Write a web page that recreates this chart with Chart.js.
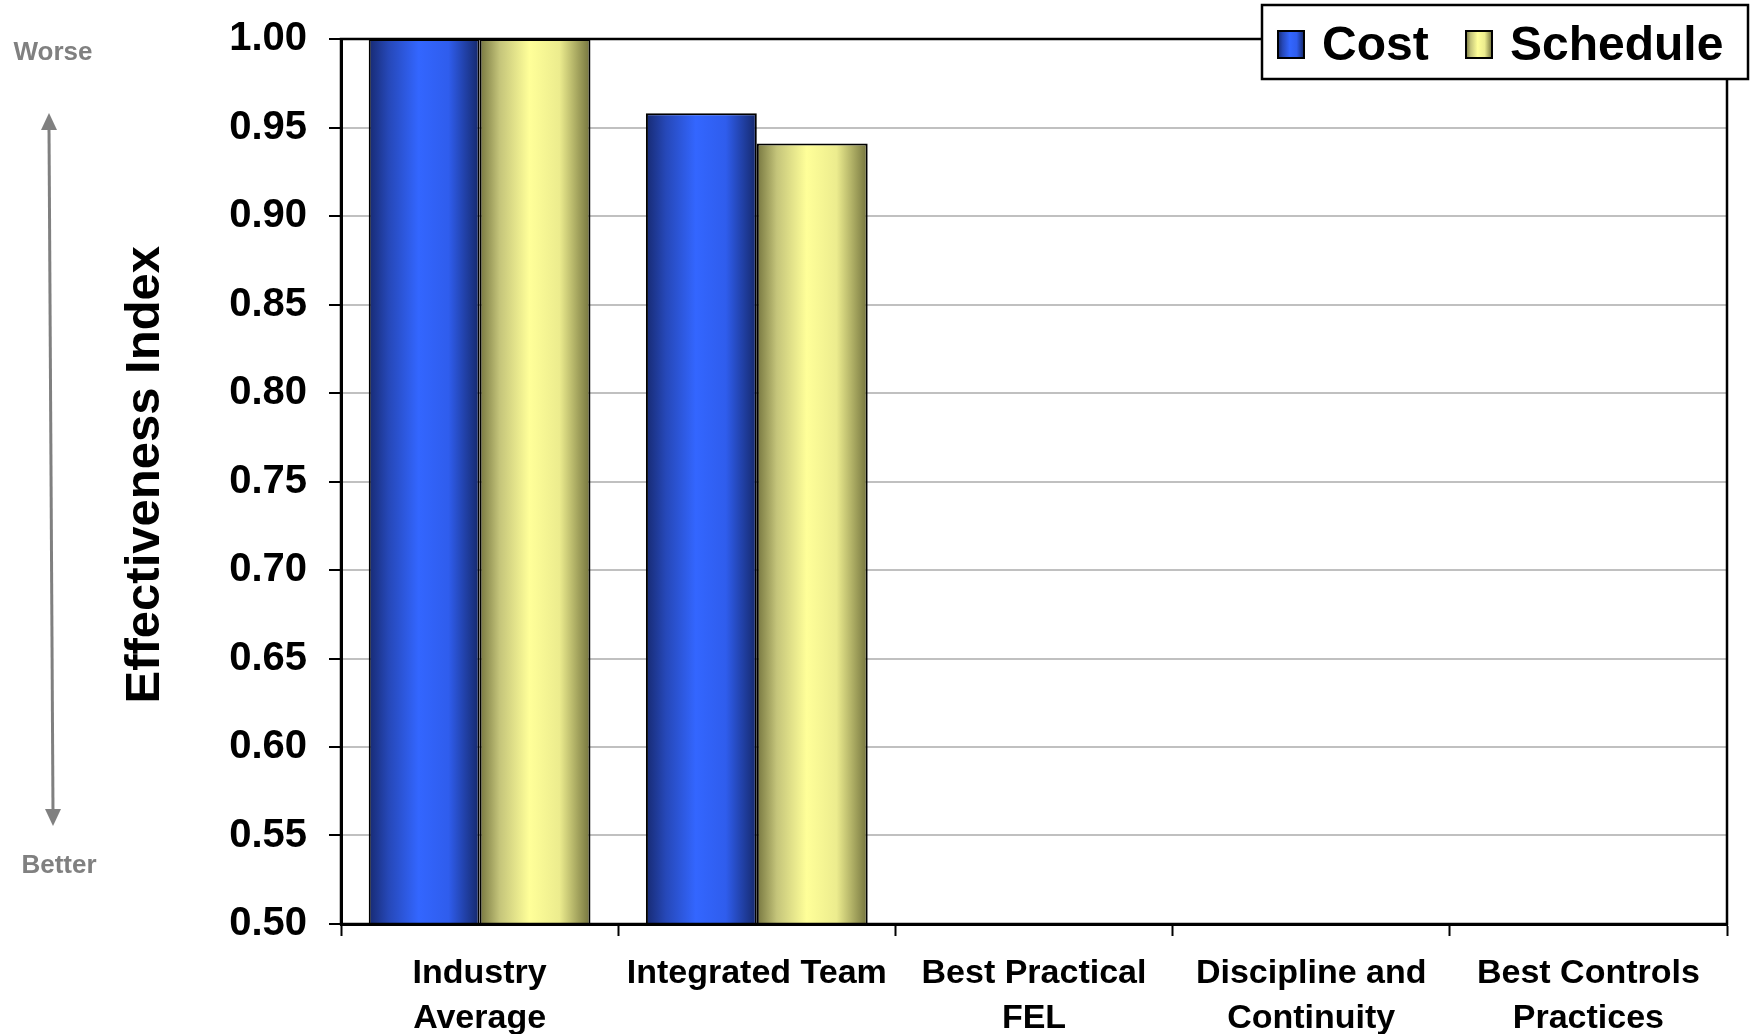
<!DOCTYPE html>
<html>
<head>
<meta charset="utf-8">
<title>Effectiveness Index</title>
<script src="https://cdn.jsdelivr.net/npm/chart.js@4.4.1/dist/chart.umd.min.js"></script>
<style>
  html, body { margin: 0; padding: 0; background: #fff; }
  #wrap { position: relative; width: 1750px; height: 1034px; }
</style>
</head>
<body>
<div id="wrap"><canvas id="effChart"></canvas></div>
<script>
const categories = [
    ['Industry', 'Average'],
    ['Integrated Team'],
    ['Best Practical', 'FEL'],
    ['Discipline and', 'Continuity'],
    ['Best Controls', 'Practices']
];
const seriesNames = ['Cost', 'Schedule'];
const costValues = [1.00, 0.958, null, null, null];
const scheduleValues = [1.00, 0.941, null, null, null];
const yMin = 0.50;
const yMax = 1.00;
const yStep = 0.05;

const FONT = '"Liberation Sans", Arial, sans-serif';

// shading stops for the cylinder look of each series
const blueStops = [[0, '#172a72'], [0.18, '#2648b8'], [0.45, '#3366ff'], [0.72, '#2f5ded'], [1, '#15286a']];
const yellowStops = [[0, '#76763f'], [0.18, '#c4c47a'], [0.45, '#ffff99'], [0.72, '#ecec8e'], [1, '#73733d']];
const seriesStops = [blueStops, yellowStops];

function cylinder(ctx, x0, x1, stops) {
    const g = ctx.createLinearGradient(x0, 0, x1, 0);
    stops.forEach(([o, c]) => g.addColorStop(o, c));
    return g;
}

// per-bar horizontal gradients, placed once the bars have their positions
const barShading = {
    id: 'barShading',
    beforeDatasetsDraw(chart) {
        const ctx = chart.ctx;
        chart.data.datasets.forEach((ds, i) => {
            chart.getDatasetMeta(i).data.forEach(el => {
                const {x, width} = el.getProps(['x', 'width'], true);
                if (!isFinite(x) || !isFinite(width)) return;
                el.options.backgroundColor = cylinder(ctx, x - width / 2, x + width / 2, seriesStops[i]);
            });
        });
    }
};

// frame, legend box and the worse/better arrow
const decorations = {
    id: 'decorations',
    afterDraw(chart) {
        const ctx = chart.ctx;
        const a = chart.chartArea;
        ctx.save();

        ctx.strokeStyle = '#000';
        ctx.lineWidth = 2.5;
        ctx.strokeRect(a.left, a.top, a.right - a.left, a.bottom - a.top);

        // legend
        const lx = 1262, ly = 5, lw = 486, lh = 74;
        ctx.fillStyle = '#fff';
        ctx.fillRect(lx, ly, lw, lh);
        ctx.lineWidth = 2.5;
        ctx.strokeRect(lx, ly, lw, lh);
        const items = [{sx: 1278, tx: 1322}, {sx: 1466, tx: 1510}];
        ctx.font = 'bold 48px ' + FONT;
        ctx.textBaseline = 'alphabetic';
        ctx.textAlign = 'left';
        items.forEach((it, i) => {
            ctx.fillStyle = cylinder(ctx, it.sx, it.sx + 26, seriesStops[i]);
            ctx.fillRect(it.sx, 31, 26, 27);
            ctx.lineWidth = 2;
            ctx.strokeStyle = '#000';
            ctx.strokeRect(it.sx, 31, 26, 27);
            ctx.fillStyle = '#000';
            ctx.fillText(chart.data.datasets[i].label, it.tx, 60);
        });

        // worse / better
        ctx.fillStyle = '#808080';
        ctx.strokeStyle = '#808080';
        ctx.font = 'bold 26px ' + FONT;
        ctx.textAlign = 'center';
        ctx.fillText('Worse', 53, 60);
        ctx.fillText('Better', 59, 873);

        const x0 = 49, y0 = 113, x1 = 53, y1 = 826;
        ctx.lineWidth = 3;
        ctx.beginPath();
        ctx.moveTo(x0, y0 + 14);
        ctx.lineTo(x1, y1 - 14);
        ctx.stroke();
        ctx.beginPath();
        ctx.moveTo(x0, y0);
        ctx.lineTo(x0 - 8, y0 + 17);
        ctx.lineTo(x0 + 8, y0 + 17);
        ctx.closePath();
        ctx.fill();
        ctx.beginPath();
        ctx.moveTo(x1, y1);
        ctx.lineTo(x1 - 8, y1 - 17);
        ctx.lineTo(x1 + 8, y1 - 17);
        ctx.closePath();
        ctx.fill();

        ctx.restore();
    }
};

const ctx = document.getElementById('effChart').getContext('2d');
const effChart = new Chart(ctx, {
    type: 'bar',
    data: {
        labels: categories,
        datasets: [{
            label: seriesNames[0],
            data: costValues,
            backgroundColor: () => '#3366ff',
            borderColor: '#000',
            borderWidth: 2
        }, {
            label: seriesNames[1],
            data: scheduleValues,
            backgroundColor: () => '#ffff99',
            borderColor: '#000',
            borderWidth: 2
        }]
    },
    options: {
        responsive: true,
        maintainAspectRatio: false,
        animation: false,
        datasets: {
            bar: {
                categoryPercentage: 0.8,
                barPercentage: 1.0
            }
        },
        layout: {
            padding: {top: 39, right: 23, bottom: 0, left: 0}
        },
        plugins: {
            legend: {display: false},
            tooltip: {enabled: false}
        },
        scales: {
            x: {
                afterFit(scale) {
                    scale.height = 110;
                    scale.paddingLeft = 0;
                    scale.paddingRight = 0;
                },
                grid: {
                    offset: true,
                    color: 'transparent',
                    tickColor: '#000',
                    tickLength: 12,
                    tickWidth: 2
                },
                border: {color: '#000', width: 3},
                ticks: {
                    color: '#000',
                    padding: 15,
                    maxRotation: 0,
                    autoSkip: false,
                    font: {family: FONT, size: 34, weight: 'bold', lineHeight: 1.32}
                }
            },
            y: {
                min: yMin,
                max: yMax,
                afterFit(scale) {
                    scale.width = 341;
                    scale.paddingTop = 0;
                    scale.paddingBottom = 0;
                },
                grid: {
                    color: '#c0c0c0',
                    lineWidth: 2,
                    tickColor: '#000',
                    tickLength: 12,
                    tickWidth: 2
                },
                border: {color: '#000', width: 3},
                ticks: {
                    stepSize: yStep,
                    color: '#000',
                    padding: 22,
                    font: {family: FONT, size: 40, weight: 'bold'},
                    callback: v => Number(v).toFixed(2)
                },
                title: {
                    display: true,
                    text: ' Effectiveness Index',
                    color: '#000',
                    padding: {top: 116, bottom: 0},
                    font: {family: FONT, size: 49, weight: 'bold'}
                }
            }
        }
    },
    plugins: [barShading, decorations]
});
</script>
</body>
</html>
